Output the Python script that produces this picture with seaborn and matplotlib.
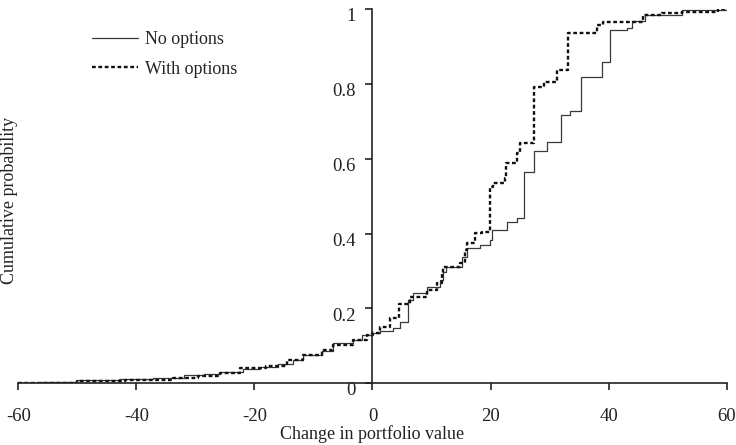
import matplotlib
matplotlib.use("Agg")
import matplotlib.pyplot as plt
import matplotlib.transforms as mtransforms
import seaborn as sns

# Empirical cumulative distribution of the change in portfolio value
no_opt_x = [-60, -56.4, -50.1, -43.0, -37.1, -32.0, -28.5, -25.8, -22.0, -19.1,
            -16.0, -13.4, -11.7, -8.6, -6.7, -3.3, -1.8, 0.1, 1.3, 3.5, 4.7,
            6.0, 6.9, 9.2, 11.4, 11.9, 12.4, 15.1, 16.0, 18.2, 19.9, 20.2, 22.8,
            24.4, 25.6, 27.4, 29.5, 31.9, 33.5, 35.3, 38.9, 40.2, 43.1, 43.9,
            46.2, 52.5, 60]
no_opt_y = [0.002, 0.004, 0.009, 0.011, 0.013, 0.022, 0.026, 0.031, 0.038, 0.044,
            0.052, 0.062, 0.076, 0.085, 0.107, 0.116, 0.129, 0.135, 0.141, 0.147,
            0.165, 0.223, 0.242, 0.258, 0.276, 0.298, 0.312, 0.339, 0.361, 0.370,
            0.383, 0.410, 0.432, 0.441, 0.564, 0.620, 0.645, 0.717, 0.728, 0.818,
            0.858, 0.944, 0.949, 0.968, 0.985, 0.997, 1.0]

with_opt_x = [-60, -50.0, -42.0, -33.8, -29.5, -25.8, -22.5, -18.0, -14.5, -11.7,
              -8.6, -6.7, -3.3, -1.0, 0.0, 1.3, 3.0, 4.5, 6.4, 9.2, 10.9, 11.7,
              11.9, 14.8, 15.7, 16.0, 17.4, 18.5, 19.9, 20.5, 22.5, 22.7, 24.4,
              25.0, 27.3, 29.0, 31.2, 33.2, 38.0, 39.1, 45.9, 49.0, 52.4, 58.6, 60]
with_opt_y = [0.002, 0.006, 0.009, 0.013, 0.020, 0.027, 0.042, 0.046, 0.062, 0.076,
              0.089, 0.102, 0.116, 0.130, 0.135, 0.151, 0.174, 0.212, 0.232, 0.250,
              0.267, 0.294, 0.312, 0.321, 0.356, 0.374, 0.401, 0.405, 0.526, 0.535,
              0.548, 0.588, 0.615, 0.642, 0.793, 0.806, 0.838, 0.936, 0.958, 0.967,
              0.985, 0.989, 0.994, 1.0, 1.0]

x_ticks = [-60, -40, -20, 0, 20, 40, 60]
y_ticks = [0, 0.2, 0.4, 0.6, 0.8, 1]
y_tick_labels = ["0", "0.2", "0.4", "0.6", "0.8", "1"]

sns.set_style("ticks")
plt.rcParams["font.family"] = ["Liberation Serif", "DejaVu Serif"]
plt.rcParams["font.size"] = 13

fig = plt.figure(figsize=(7.36, 4.45), dpi=100)
ax = fig.add_axes([0.0249, 0.1387, 0.9624, 0.8403])

sns.lineplot(x=no_opt_x, y=no_opt_y, ax=ax, drawstyle="steps-post",
             color="#3a3a3a", linewidth=0.9, label="No options")
sns.lineplot(x=with_opt_x, y=with_opt_y, ax=ax, drawstyle="steps-post",
             color="#111111", linewidth=1.7, linestyle=(0, (1.6, 1.1)),
             label="With options")

ax.set_xlim(-60, 60)
ax.set_ylim(0, 1)

# Axes cross at the origin
ax.spines["left"].set_position(("data", 0))
ax.spines["top"].set_visible(False)
ax.spines["right"].set_visible(False)
for s in ("left", "bottom"):
    ax.spines[s].set_color("#222222")
    ax.spines[s].set_linewidth(1.2)

ax.set_xticks(x_ticks)
ax.set_xticklabels([str(v) for v in x_ticks])
ax.set_yticks(y_ticks)
ax.set_yticklabels(y_tick_labels)
ax.tick_params(axis="x", direction="out", length=5, width=1.2, color="#222222",
               pad=13, labelsize=13.5, labelcolor="#222222")
ax.tick_params(axis="y", direction="out", length=5, width=1.2, color="#222222",
               pad=7, labelsize=13.5, labelcolor="#222222")
shift = mtransforms.ScaledTranslation(0, -4 / 72, fig.dpi_scale_trans)
for lab in ax.get_yticklabels():
    lab.set_transform(lab.get_transform() + shift)

ax.set_xlabel("Change in portfolio value", fontsize=13, color="#222222")
ax.xaxis.set_label_coords(0.5, -0.113)
ax.set_ylabel("Cumulative probability", fontsize=13, color="#222222")
ax.yaxis.set_label_coords(0.0, 0.49)

ax.legend(loc="upper left", bbox_to_anchor=(0.125, 0.93),
          bbox_transform=fig.transFigure, frameon=False, fontsize=13,
          handlelength=2.55, handletextpad=0.4, labelspacing=0.7,
          borderpad=0, borderaxespad=0)

fig.savefig("out.png", dpi=100)
